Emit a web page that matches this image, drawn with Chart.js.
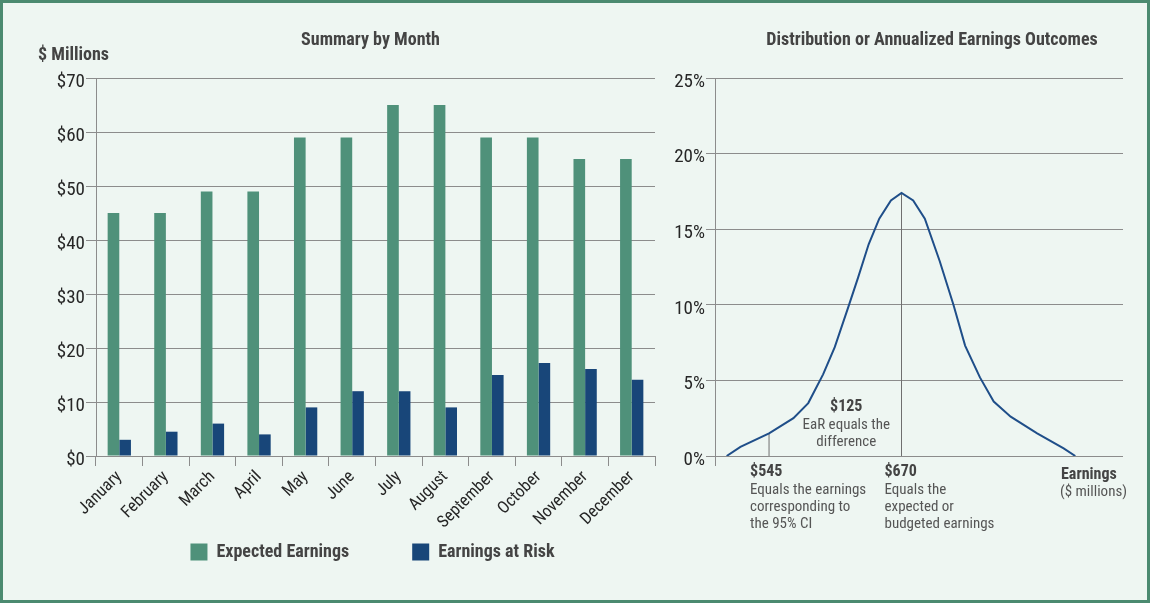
<!DOCTYPE html>
<html>
<head>
<meta charset="utf-8">
<title>Earnings at Risk</title>
<script src="https://cdn.jsdelivr.net/npm/chart.js@4.4.0/dist/chart.umd.min.js"></script>
<style>
    html, body { margin: 0; padding: 0; background: #eef6f2; }
    #frame { position: relative; width: 1150px; height: 603px; background: #eef6f2; box-shadow: inset 0 0 0 3px #4b8a70; overflow: hidden; }
    .chart-box { position: absolute; top: 0; height: 603px; }
    #left-box { left: 0; width: 665px; }
    #right-box { left: 660px; width: 490px; }
</style>
</head>
<body>
<div id="frame">
    <div id="left-box" class="chart-box"><canvas id="month-chart"></canvas></div>
    <div id="right-box" class="chart-box"><canvas id="outcome-chart"></canvas></div>
</div>
<script>
// Summary by month ($ millions)
const months = ['January', 'February', 'March', 'April', 'May', 'June', 'July', 'August', 'September', 'October', 'November', 'December'];
const expectedEarnings = [45, 45, 49, 49, 59, 59, 65, 65, 59, 59, 55, 55];
const earningsAtRisk = [3, 4.5, 6, 4, 9, 12, 12, 9, 15, 17.2, 16.1, 14.1];

// Distribution of annualized earnings outcomes
const outcomeEarnings = [505, 518, 545, 568, 582, 596, 607, 620, 629, 639, 649, 660, 670, 681, 692, 706, 719, 730, 744, 757, 773, 798, 823, 834];
const outcomeProbability = [0, 0.6, 1.5, 2.5, 3.5, 5.4, 7.2, 9.9, 11.8, 14.0, 15.7, 16.9, 17.4, 16.9, 15.7, 12.9, 10.0, 7.3, 5.2, 3.6, 2.6, 1.5, 0.5, 0];
const ciEarnings = 545;       // 95% CI
const budgetEarnings = 670;   // expected
const earningsRange = [494, 879];

const GREEN = '#4f917a';
const BLUE = '#184679';
const CURVE = '#1f4e89';
const GRID = '#8c8c8c';
const TEXT = '#444';
const NOTE = '#555';
const FONT = "'Roboto Condensed', 'Open Sans Condensed', 'Liberation Sans', sans-serif";

Chart.defaults.font.family = FONT;
Chart.defaults.color = '#262626';

const probAt = x => outcomeProbability[outcomeEarnings.indexOf(x)];

function drawText(ctx, text, x, y, font, color, align) {
    ctx.font = font;
    ctx.fillStyle = color;
    ctx.textAlign = align || 'left';
    ctx.textBaseline = 'middle';
    ctx.fillText(text, x, y);
}

// left chart
new Chart(document.getElementById('month-chart'), {
    type: 'bar',
    data: {
        labels: months,
        datasets: [
            { label: 'Expected Earnings', data: expectedEarnings, backgroundColor: GREEN, borderWidth: 0 },
            { label: 'Earnings at Risk', data: earningsAtRisk, backgroundColor: BLUE, borderWidth: 0 }
        ]
    },
    options: {
        responsive: true,
        maintainAspectRatio: false,
        animation: false,
        layout: { padding: { left: 0, right: 10, top: 78, bottom: 72 } },
        datasets: { bar: { categoryPercentage: 0.5, barPercentage: 1.0 } },
        scales: {
            x: {
                grid: { drawOnChartArea: false, color: GRID, tickLength: 10 },
                border: { color: GRID },
                ticks: { minRotation: 45, maxRotation: 45, padding: 1, font: { size: 17 } },
                afterFit: s => { s.height = 75; }
            },
            y: {
                min: 0, max: 70,
                grid: { color: GRID, tickLength: 10 },
                border: { color: GRID },
                ticks: { stepSize: 10, padding: 1, labelOffset: 4, font: { size: 19 }, callback: v => '$' + v },
                afterFit: s => { s.width = 96; }
            }
        },
        plugins: {
            legend: { display: false },
            tooltip: { enabled: false }
        }
    },
    plugins: [{
        id: 'monthNotes',
        afterDraw(chart) {
            const { ctx, chartArea } = chart;
            const center = (chartArea.left + chartArea.right) / 2;
            ctx.save();
            drawText(ctx, 'Summary by Month', center - 5, 40, "bold 18px " + FONT, TEXT, 'center');
            drawText(ctx, '$ Millions', chartArea.left - 58, 55, "bold 18px " + FONT, TEXT, 'left');

            // legend: square + label per dataset, centred under the plot
            const font = "bold 18px " + FONT;
            ctx.font = font;
            const box = 17, gap = 9, spacing = 63;
            const items = chart.data.datasets.map(d => ({ d, w: box + gap + ctx.measureText(d.label).width }));
            const total = items.reduce((s, it) => s + it.w, 0) + spacing * (items.length - 1);
            let x = center - 3 - total / 2;
            const y = chartArea.bottom + 96;
            items.forEach(it => {
                ctx.fillStyle = it.d.backgroundColor;
                ctx.fillRect(x, y - box / 2, box, box);
                drawText(ctx, it.d.label, x + box + gap, y, font, TEXT, 'left');
                x += it.w + spacing;
            });
            ctx.restore();
        }
    }]
});

// right chart
new Chart(document.getElementById('outcome-chart'), {
    type: 'line',
    data: {
        datasets: [
            {
                label: 'Probability',
                data: outcomeEarnings.map((x, i) => ({ x: x, y: outcomeProbability[i] })),
                borderColor: CURVE, borderWidth: 2, pointRadius: 0, tension: 0
            },
            {
                label: 'CI',
                data: [{ x: ciEarnings, y: 0 }, { x: ciEarnings, y: probAt(ciEarnings) }],
                borderColor: '#6f6f6f', borderWidth: 1, pointRadius: 0
            },
            {
                label: 'Expected',
                data: [{ x: budgetEarnings, y: 0 }, { x: budgetEarnings, y: probAt(budgetEarnings) }],
                borderColor: '#6f6f6f', borderWidth: 1, pointRadius: 0
            }
        ]
    },
    options: {
        responsive: true,
        maintainAspectRatio: false,
        animation: false,
        layout: { padding: { left: 0, right: 27, top: 78, bottom: 137 } },
        scales: {
            x: {
                type: 'linear',
                min: earningsRange[0], max: earningsRange[1],
                afterBuildTicks: axis => { axis.ticks = [{ value: axis.min }]; },
                grid: { drawOnChartArea: false, color: GRID, tickLength: 10 },
                border: { display: false },
                ticks: { display: false },
                afterFit: s => { s.height = 10; }
            },
            y: {
                min: 0, max: 25,
                grid: { color: GRID, tickLength: 9 },
                border: { color: GRID },
                ticks: { stepSize: 5, padding: 1, labelOffset: 4, font: { size: 19 }, callback: v => v + '%' },
                afterFit: s => { s.width = 55; }
            }
        },
        plugins: {
            legend: { display: false },
            tooltip: { enabled: false }
        }
    },
    plugins: [{
        id: 'outcomeNotes',
        afterDraw(chart) {
            const { ctx, chartArea } = chart;
            const xs = chart.scales.x;
            const bottom = chartArea.bottom;
            const bold = "bold 16px " + FONT;
            const reg = "15px " + FONT;
            ctx.save();
            drawText(ctx, 'Distribution or Annualized Earnings Outcomes', (chartArea.left + chartArea.right) / 2 + 13, 40, "bold 18px " + FONT, TEXT, 'center');

            const mid = (xs.getPixelForValue(ciEarnings) + xs.getPixelForValue(budgetEarnings)) / 2 + 11;
            drawText(ctx, '$' + (budgetEarnings - ciEarnings), mid, bottom - 49, bold, TEXT, 'center');
            drawText(ctx, 'EaR equals the', mid, bottom - 31, reg, NOTE, 'center');
            drawText(ctx, 'difference', mid, bottom - 14, reg, NOTE, 'center');

            const ciX = xs.getPixelForValue(ciEarnings) - 19;
            drawText(ctx, '$' + ciEarnings, ciX, bottom + 16, bold, TEXT);
            ['Equals the earnings', 'corresponding to', 'the 95% CI'].forEach((t, i) => drawText(ctx, t, ciX, bottom + 34 + i * 17, reg, NOTE));

            const bx = xs.getPixelForValue(budgetEarnings) - 17;
            drawText(ctx, '$' + budgetEarnings, bx, bottom + 16, bold, TEXT);
            ['Equals the', 'expected or', 'budgeted earnings'].forEach((t, i) => drawText(ctx, t, bx, bottom + 34 + i * 17, reg, NOTE));

            drawText(ctx, 'Earnings', chartArea.right - 62, bottom + 19, bold, TEXT);
            drawText(ctx, '($ millions)', chartArea.right - 63, bottom + 36, reg, NOTE);
            ctx.restore();
        }
    }]
});
</script>
</body>
</html>
